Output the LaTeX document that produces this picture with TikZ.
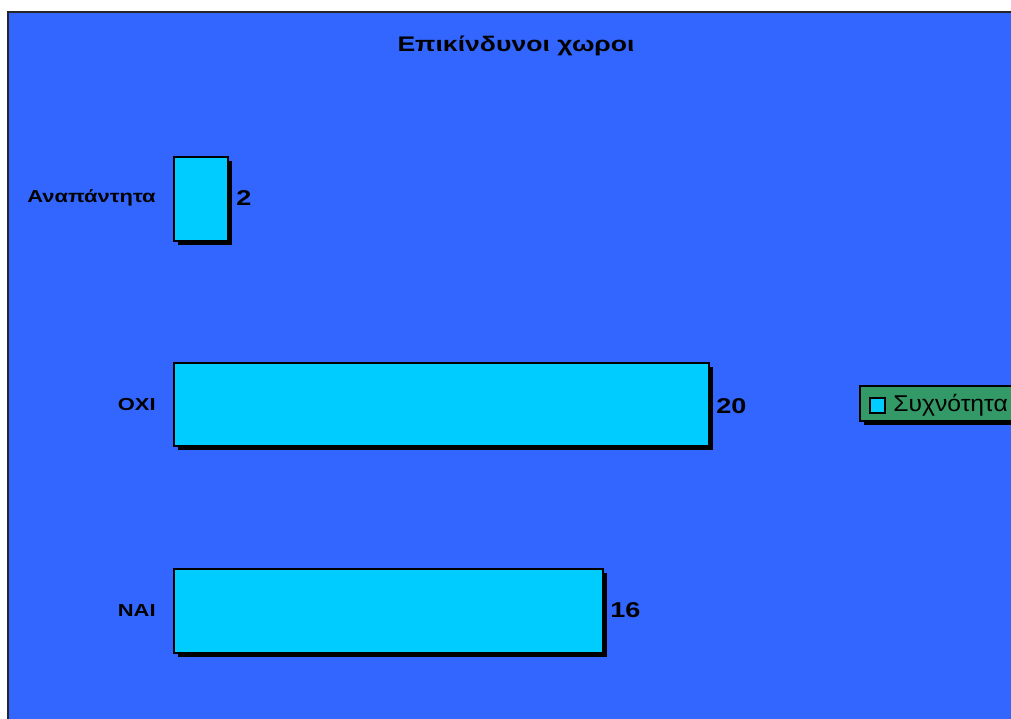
\documentclass[tikz,border=0pt]{standalone}
\usepackage{fontspec}
\setmainfont{Liberation Sans}
\newfontfamily\widefont[FakeStretch=1.26]{Liberation Sans}
\newfontfamily\legfont[FakeStretch=1.08]{Liberation Sans}
\usetikzlibrary{positioning}

\definecolor{plotblue}{HTML}{3366FF}
\definecolor{barcyan}{HTML}{00CCFF}
\definecolor{legendgreen}{HTML}{339966}

\begin{document}
\begin{tikzpicture}[
	x=0.02cm,
	y=-0.02cm,
	font=\bfseries
]
\tikzset{
    bartitle/.style = {font=\widefont\bfseries\fontsize{12}{13}\selectfont},
    catlabel/.style = {anchor=east, inner sep=0pt, font=\widefont\bfseries\fontsize{9.9}{11}\selectfont},
    vallabel/.style = {anchor=west, inner sep=0pt, font=\widefont\bfseries\fontsize{12.2}{13}\selectfont},
    barbox/.style = {draw=black, fill=barcyan, line width=0.6pt},
    barshadow/.style = {fill=black}
}
\useasboundingbox (0,0) rectangle (1011,719);
\clip (0,0) rectangle (1011,719);
% plot area
\fill[plotblue] (8,12) rectangle (1020,730);
\draw[line width=1.4pt, black!85] (8,730) -- (8,12) -- (1020,12);
%
\node[bartitle] at (516,46) (title) {Επικίνδυνοι χωροι};
%
% bars with shadow
\fill[barshadow] (178,161) rectangle (232,245);
\draw[barbox] (174,157) rectangle (228,241);
\fill[barshadow] (178,367) rectangle (713,450);
\draw[barbox] (174,363) rectangle (709,446);
\fill[barshadow] (178,573) rectangle (607,657);
\draw[barbox] (174,569) rectangle (603,653);
%
\node[catlabel] at (156,198) (ana) {Αναπάντητα};
\node[catlabel] at (156,405) (oxi) {ΟΧΙ};
\node[catlabel] at (156,611) (nai) {ΝΑΙ};
%
\node[vallabel] at (236,198) (vana) {2};
\node[vallabel] at (716,406) (voxi) {20};
\node[vallabel] at (610,610) (vnai) {16};
%
% legend
\fill[barshadow] (864,390) rectangle (1020,425);
\draw[fill=legendgreen, line width=0.6pt] (860,386) rectangle (1016,421);
\draw[fill=barcyan, line width=0.6pt] (870,398) rectangle (885,413);
\node[anchor=west, inner sep=0pt, font=\legfont\fontsize{13}{14}\selectfont] at (893,405) (leg) {Συχνότητα};
\end{tikzpicture}
\end{document}
